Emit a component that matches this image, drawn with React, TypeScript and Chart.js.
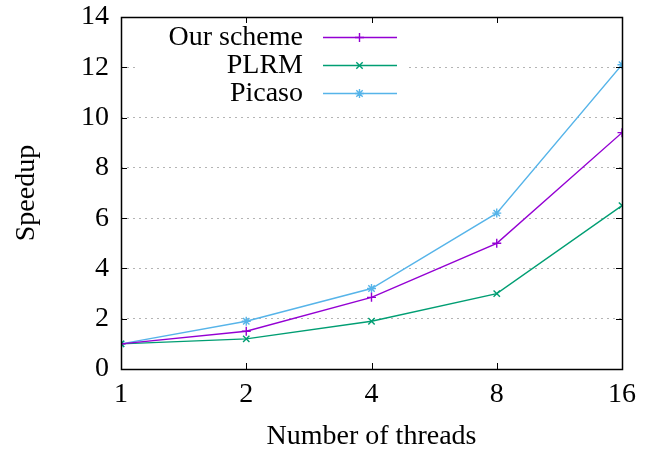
import React, { useEffect, useRef } from "react";
import { Chart, registerables } from "chart.js";

Chart.register(...registerables);

const threads = [1, 2, 4, 8, 16];
const xTickValues = [1, 2, 4, 8, 16];
const yTickValues = [0, 2, 4, 6, 8, 10, 12, 14];

const seriesNames = ["Our scheme", "PLRM", "Picaso"];
const ourScheme = [1.0, 1.5, 2.85, 5.0, 9.4];
const plrm = [1.0, 1.2, 1.9, 3.0, 6.5];
const picaso = [1.0, 1.9, 3.2, 6.2, 12.1];

const seriesColors = ["#9400d3", "#009e73", "#56b4e9"];
const seriesPoints = ["cross", "crossRot", "star"];

const FONT = "'Liberation Serif', 'Times New Roman', serif";
const FS = 28;

function drawMarker(ctx: CanvasRenderingContext2D, style: string, x: number, y: number, r: number) {
  ctx.beginPath();
  const d = r * Math.SQRT1_2;
  if (style === "cross" || style === "star") {
    ctx.moveTo(x - r, y);
    ctx.lineTo(x + r, y);
    ctx.moveTo(x, y - r);
    ctx.lineTo(x, y + r);
  }
  if (style === "crossRot" || style === "star") {
    ctx.moveTo(x - d, y - d);
    ctx.lineTo(x + d, y + d);
    ctx.moveTo(x + d, y - d);
    ctx.lineTo(x - d, y + d);
  }
  ctx.stroke();
}

const framePlugin = {
  id: "gnuFrame",
  afterDraw(chart: any) {
    const { ctx, chartArea } = chart;
    const { left, right, top, bottom } = chartArea;
    const xs = chart.scales.x;
    const ys = chart.scales.y;
    const tl = 6;
    ctx.save();

    // legend (key)
    ctx.fillStyle = "#fff";
    ctx.fillRect(136, 23, 272, 86);
    ctx.font = `${FS}px ${FONT}`;
    ctx.textAlign = "right";
    ctx.textBaseline = "middle";
    chart.data.datasets.forEach((ds: any, i: number) => {
      const yRow = 37 + i * 28;
      ctx.fillStyle = "#000";
      ctx.fillText(ds.label, 303, yRow + 1);
      ctx.strokeStyle = ds.borderColor;
      ctx.lineWidth = 1.4;
      ctx.beginPath();
      ctx.moveTo(323, yRow + 0.5);
      ctx.lineTo(397, yRow + 0.5);
      ctx.stroke();
      drawMarker(ctx, ds.pointStyle, 359.5, yRow + 0.5, 4.5);
    });

    ctx.strokeStyle = "#000";
    ctx.lineWidth = 1;
    ctx.beginPath();
    xTickValues.forEach((v) => {
      const px = Math.round(xs.getPixelForValue(v)) + 0.5;
      ctx.moveTo(px, bottom);
      ctx.lineTo(px, bottom - tl);
      ctx.moveTo(px, top);
      ctx.lineTo(px, top + tl);
    });
    yTickValues.forEach((v) => {
      const py = Math.round(ys.getPixelForValue(v)) + 0.5;
      ctx.moveTo(left, py);
      ctx.lineTo(left + tl, py);
      ctx.moveTo(right, py);
      ctx.lineTo(right - tl, py);
    });
    ctx.stroke();
    ctx.lineWidth = 1.5;
    ctx.strokeRect(Math.round(left) + 0.5, Math.round(top) + 0.5, Math.round(right - left), Math.round(bottom - top));
    ctx.restore();
  },
};

export default function App() {
  const ref = useRef<HTMLCanvasElement>(null);
  useEffect(() => {
    if (!ref.current) return;
    const allSeries = [ourScheme, plrm, picaso];
    const chart = new Chart(ref.current, {
      type: "line",
      data: {
        datasets: allSeries.map((vals, i) => ({
          label: seriesNames[i],
          data: threads.map((t, j) => ({ x: t, y: vals[j] })),
          borderColor: seriesColors[i],
          backgroundColor: seriesColors[i],
          borderWidth: 1.4,
          pointStyle: seriesPoints[i] as any,
          pointRadius: 4.5,
          pointBorderWidth: 1.4,
          pointBorderColor: seriesColors[i],
          fill: false,
          tension: 0,
        })),
      },
      options: {
        animation: false,
        responsive: false,
        layout: { padding: { top: 0, right: 28, left: 0, bottom: 0 } },
        plugins: { legend: { display: false }, tooltip: { enabled: false } },
        scales: {
          x: {
            type: "logarithmic",
            min: 1,
            max: 16,
            afterBuildTicks: (scale: any) => {
              scale.ticks = xTickValues.map((v) => ({ value: v }));
            },
            afterFit: (scale: any) => {
              scale.height = 84;
            },
            ticks: {
              callback: (v: any) => String(v),
              font: { family: FONT, size: FS },
              color: "#000",
              padding: 9,
              maxRotation: 0,
              autoSkip: false,
            },
            grid: { display: false, drawTicks: false },
            border: { display: false },
            title: {
              display: true,
              text: "Number of threads",
              font: { family: FONT, size: FS, lineHeight: 1.2 },
              color: "#000",
              padding: { top: 0, bottom: 0 },
            },
          },
          y: {
            type: "linear",
            min: 0,
            max: 14,
            afterBuildTicks: (scale: any) => {
              scale.ticks = yTickValues.map((v) => ({ value: v }));
            },
            afterFit: (scale: any) => {
              scale.width = 121;
              scale.paddingTop = 17;
            },
            ticks: {
              font: { family: FONT, size: FS },
              color: "#000",
              padding: 12,
            },
            grid: {
              drawTicks: false,
              color: (c: any) =>
                c.tick && (c.tick.value === 0 || c.tick.value === 14) ? "rgba(0,0,0,0)" : "#b4b4b4",
              lineWidth: 1,
            },
            border: { display: false, dash: [2, 4] },
            title: {
              display: true,
              text: "Speedup",
              font: { family: FONT, size: FS, lineHeight: 1.2 },
              color: "#000",
              padding: { top: 10, bottom: 0 },
            },
          },
        },
      },
      plugins: [framePlugin],
    });
    return () => chart.destroy();
  }, []);
  return (
    <div style={{ position: "fixed", left: 0, top: 0, width: 650, height: 453, background: "#fff" }}>
      <canvas ref={ref} width={650} height={453} />
    </div>
  );
}
